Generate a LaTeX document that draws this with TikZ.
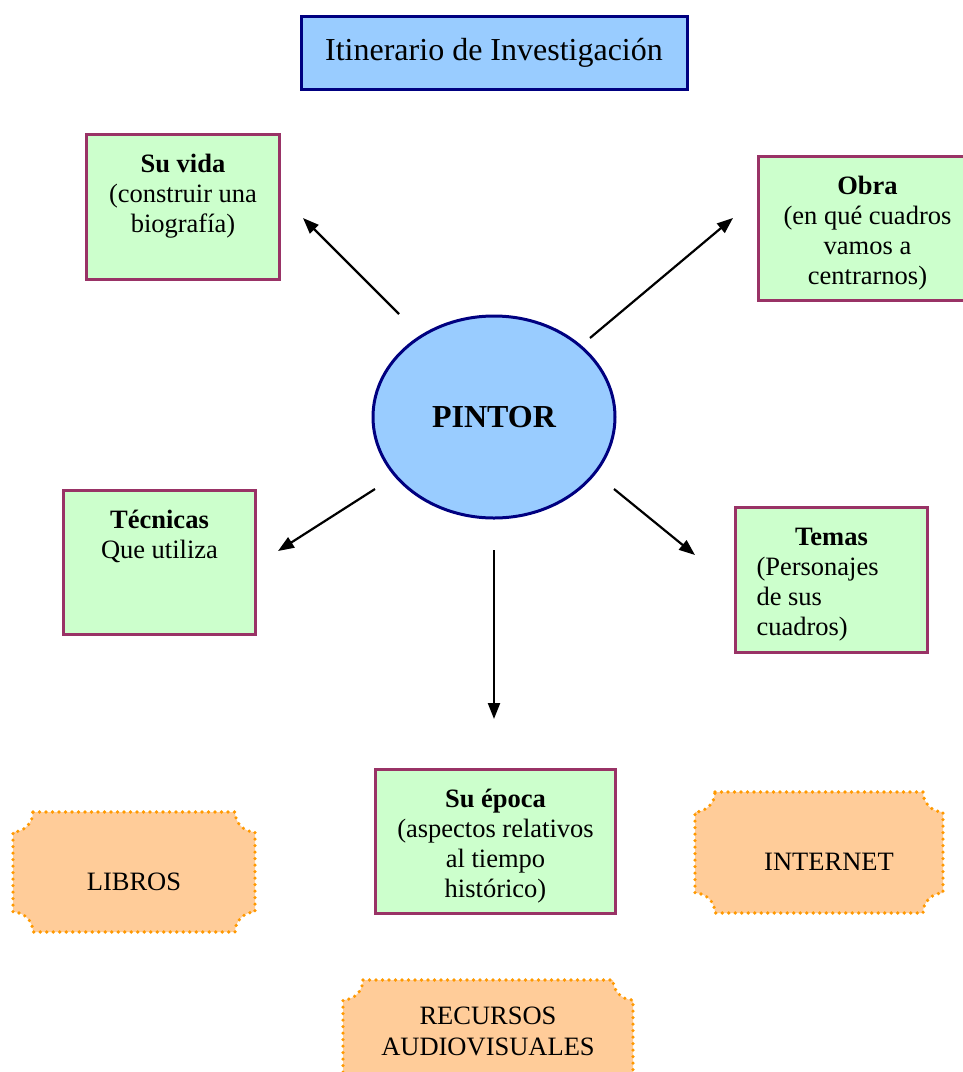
\documentclass[tikz,border=0pt]{standalone}
\usepackage{fontspec}
\setmainfont{Liberation Serif}
\usetikzlibrary{arrows.meta,shapes.geometric}
\definecolor{titlefill}{HTML}{99CCFF}
\definecolor{navyline}{HTML}{000080}
\definecolor{boxfill}{HTML}{CCFFCC}
\definecolor{boxline}{HTML}{993366}
\definecolor{plaqfill}{HTML}{FFCC99}
\definecolor{plaqline}{HTML}{FF9900}
\newcommand{\gboxtext}[3]{\parbox[c][#2][t]{#1}{\fontsize{26.5}{30}\selectfont\centering\rule{0pt}{38pt}#3\par}}
\newcommand{\plaquepath}[4]{%
  \path[plaq] (#1+20,#2) -- (#3-20,#2) arc[start angle=180,end angle=90,radius=20]
    -- (#3,#4-20) arc[start angle=270,end angle=180,radius=20]
    -- (#1+20,#4) arc[start angle=0,end angle=-90,radius=20]
    -- (#1,#2+20) arc[start angle=90,end angle=0,radius=20] -- cycle;}
\tikzset{
  greenbox/.style={draw=boxline, fill=boxfill, line width=3pt, inner sep=0pt, rectangle, anchor=north west},
  titlebox/.style={draw=navyline, fill=titlefill, line width=3pt, inner sep=0pt, rectangle},
  centre/.style={draw=navyline, fill=titlefill, line width=3pt, ellipse, inner sep=0pt},
  plaq/.style={fill=plaqfill, draw=plaqline, line width=3.6pt, dash pattern=on 0pt off 6.5pt, line cap=round},
  plaqtext/.style={align=center, font=\fontsize{26.5}{31}\selectfont, inner sep=0pt},
  arr/.style={line width=2.2pt, -{Triangle[length=16pt,width=12pt]}},
}
\begin{document}
\begin{tikzpicture}[x=1pt,y=-1pt]
\useasboundingbox (0,0) rectangle (963,1072);
\clip (0,0) rectangle (963,1072);

% title
\node[titlebox, minimum width=386, minimum height=73] (title) at (494,52.5)
  {\fontsize{32}{36}\selectfont Itinerario de Investigación};

% centre
\node[centre, minimum width=242, minimum height=202] (pintor) at (494,417)
  {\fontsize{32}{36}\selectfont\bfseries PINTOR};

% boxes
\node[greenbox] (vida) at (85,133) {\gboxtext{193pt}{145pt}{\textbf{Su vida}\\(construir una\\biografía)}};
\node[greenbox] (obra) at (757,155) {\gboxtext{218pt}{144pt}{\textbf{Obra}\\(en qué cuadros\\vamos a\\centrarnos)}};
\node[greenbox] (tecnicas) at (62,489) {\gboxtext{192pt}{144pt}{\textbf{Técnicas}\\Que utiliza}};
\node[greenbox] (temas) at (734,506) {\parbox[c][145pt][t]{192pt}{\fontsize{26.5}{30}\selectfont\centering\rule{0pt}{38pt}\textbf{Temas}\par\raggedright\leftskip=21pt (Personajes\\de sus\\cuadros)\par}};
\node[greenbox] (epoca) at (374,768) {\gboxtext{240pt}{144pt}{\textbf{Su época}\\(aspectos relativos\\al tiempo\\histórico)}};

% plaques
\plaquepath{13}{812}{255}{932}
\node[plaqtext] (libros) at (134,882) {LIBROS};
\plaquepath{695}{792}{943}{913}
\node[plaqtext] (internet) at (829,862) {INTERNET};
\plaquepath{343}{980}{633}{1110}
\node[plaqtext] (recursos) at (488,1031) {RECURSOS\\AUDIOVISUALES};

% arrow end points
\coordinate (a1s) at (399,314); \coordinate (a1e) at (303,218);
\coordinate (a2s) at (590,338); \coordinate (a2e) at (733,218);
\coordinate (a3s) at (375,489); \coordinate (a3e) at (278,551);
\coordinate (a4s) at (614,489); \coordinate (a4e) at (695,555);
\coordinate (a5s) at (494,550); \coordinate (a5e) at (494,719);
\draw[arr] (a1s) -- (a1e);
\draw[arr] (a2s) -- (a2e);
\draw[arr] (a3s) -- (a3e);
\draw[arr] (a4s) -- (a4e);
\draw[arr] (a5s) -- (a5e);
\end{tikzpicture}
\end{document}
